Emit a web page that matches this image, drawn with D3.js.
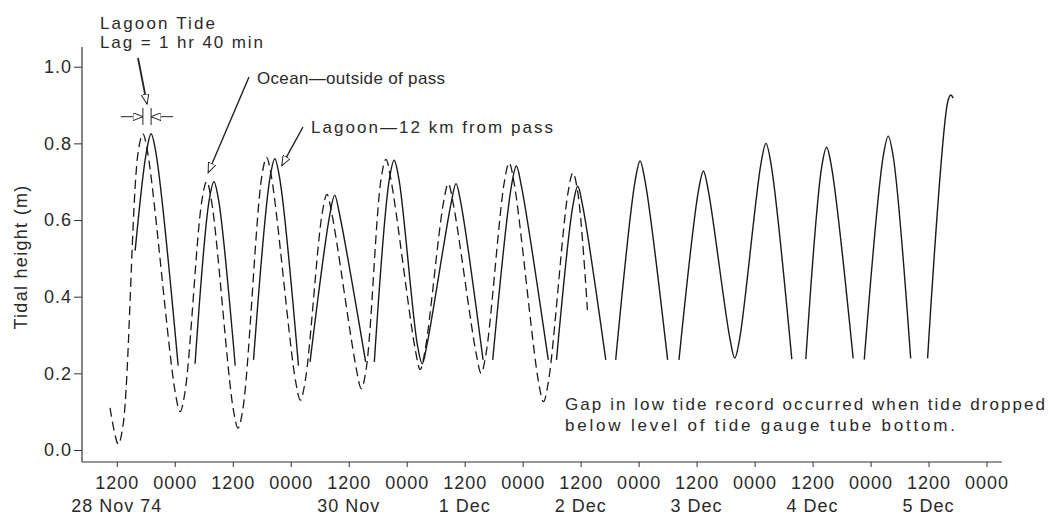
<!DOCTYPE html>
<html>
<head>
<meta charset="utf-8">
<script src="https://cdn.jsdelivr.net/npm/d3@7"></script>
<style>
  body { margin: 0; background: #fff; }
  text { font-family: "Liberation Sans", Arial, sans-serif; fill: #2a2a2a; }
</style>
</head>
<body>
<div id="chart"></div>
<script>
// hours counted from 28 Nov 1974 00:00, heights in metres
var oceanHours  = [10.6, 12.3, 13.3,
                   16.4, 17.4, 18.4,   24.1, 25.1, 26.1,
                   29.6, 30.6, 31.6,   36.1, 37.1, 38.1,
                   42.0, 43.0, 44.0,   49.0, 50.0, 51.0,
                   54.5, 55.5, 56.5,   61.6, 62.6, 63.6,
                   66.7, 67.7, 68.7,   73.8, 74.8, 75.8,
                   79.6, 80.6, 81.6,   86.4, 87.4, 88.4,
                   92.2, 93.2, 94.2,   99.3, 100.3, 101.3,
                   105.4, 106.4, 107.4, 109.4];
var oceanHeight = [0.11, 0.015, 0.065,
                   0.775, 0.825, 0.775,  0.15, 0.10, 0.15,
                   0.65, 0.70, 0.65,     0.107, 0.057, 0.107,
                   0.713, 0.763, 0.713,  0.18, 0.13, 0.18,
                   0.617, 0.667, 0.617,  0.21, 0.16, 0.21,
                   0.708, 0.758, 0.708,  0.26, 0.21, 0.26,
                   0.645, 0.695, 0.645,  0.25, 0.20, 0.25,
                   0.699, 0.749, 0.699,  0.176, 0.126, 0.176,
                   0.673, 0.723, 0.673, 0.365];

// null = gap in the low tide record
var lagoonHours  = [15.8, 18.1, 19.1, 20.1, 24.7, 26.4,
                    28.2, 31.1, 32.1, 33.1, 36.5, 38.4,
                    40.3, 43.7, 44.7, 45.7, 49.6, 50.8,
                    52.0, 56.1, 57.1, 58.1, 63.5, 64.4,
                    65.3, 68.4, 69.4, 70.4, 74.2, 75.2, 76.2, 81.2, 82.2, 83.2, 87.8, 88.8,
                    89.8, 93.7, 94.7, 95.7, 101.3, 102.2,
                    103.0, 106.4, 107.4, 108.4, 113.2, 114.2,
                    115.25, 119.3, 120.3, 121.3, 126.0, 127.2,
                    128.35, 132.4, 133.4, 134.4, 138.9, 139.9, 140.9, 145.35, 146.35, 147.35, 151.7, 153.1,
                    154.6, 157.9, 158.9, 159.9, 164.4, 165.5,
                    166.7, 170.65, 171.65, 172.65, 176.3, 178.0,
                    179.8, 184.0, 184.6, 185.1];
var lagoonHeight = [0.52, 0.775, 0.825, 0.775, 0.22, null,
                    0.225, 0.65, 0.70, 0.65, 0.22, null,
                    0.235, 0.71, 0.76, 0.71, 0.22, null,
                    0.23, 0.615, 0.665, 0.615, 0.23, null,
                    0.23, 0.706, 0.756, 0.706, 0.275, 0.225, 0.275, 0.645, 0.695, 0.645, 0.235, null,
                    0.235, 0.691, 0.741, 0.691, 0.235, null,
                    0.235, 0.638, 0.688, 0.638, 0.235, null,
                    0.235, 0.704, 0.754, 0.704, 0.235, null,
                    0.235, 0.678, 0.728, 0.678, 0.29, 0.24, 0.29, 0.75, 0.80, 0.75, 0.237, null,
                    0.237, 0.74, 0.79, 0.74, 0.239, null,
                    0.236, 0.769, 0.819, 0.769, 0.239, null,
                    0.239, 0.91, 0.926, 0.918];

var yTicks = [0, 0.2, 0.4, 0.6, 0.8, 1.0];
var xTickHours = [12, 24, 36, 48, 60, 72, 84, 96, 108, 120, 132, 144, 156, 168, 180, 192];
var dateLabels = ["28 Nov 74", "30 Nov", "1 Dec", "2 Dec", "3 Dec", "4 Dec", "5 Dec"];
var dateLabelHours = [12, 60, 84, 108, 132, 156, 180];

function t(h) { return new Date(Date.UTC(1974, 10, 28) + h * 36e5); }

var svg = d3.select("#chart").append("svg")
    .attr("width", 1048)
    .attr("height", 520);

var x = d3.scaleUtc()
    .domain([t(4.8), t(195.2)])
    .range([82, 1002]);
var y = d3.scaleLinear()
    .domain([0, 1])
    .range([450, 66.7]);

// axis lines
svg.append("line").attr("x1", 82).attr("x2", 82).attr("y1", 47).attr("y2", 462)
    .attr("stroke", "#333").attr("stroke-width", 1.2);
svg.append("line").attr("x1", 82).attr("x2", 1002).attr("y1", 462).attr("y2", 462)
    .attr("stroke", "#333").attr("stroke-width", 1.2);

svg.append("g")
    .attr("transform", "translate(82,0)")
    .call(d3.axisLeft(y).tickValues(yTicks).tickFormat(d3.format(".1f")).tickSize(8).tickPadding(2));
svg.append("g")
    .attr("transform", "translate(0,462)")
    .call(d3.axisBottom(x).tickValues(xTickHours.map(t)).tickFormat(d3.utcFormat("%H%M")).tickSize(5).tickPadding(9));

svg.selectAll(".domain").remove();
svg.selectAll(".tick line").attr("stroke", "#333");
svg.selectAll(".tick text")
    .attr("font-size", 18)
    .attr("letter-spacing", "1px")
    .attr("fill", "#2a2a2a")
    .attr("font-family", "Liberation Sans, Arial, sans-serif");

svg.selectAll(".datelabel")
  .data(dateLabels)
  .enter()
  .append("text")
    .attr("class", "datelabel")
    .attr("x", function(d, i) { return x(t(dateLabelHours[i])); })
    .attr("y", 512)
    .attr("text-anchor", "middle")
    .attr("font-size", 18)
    .attr("letter-spacing", "1px")
    .text(function(d) { return d; });

svg.append("text")
    .attr("transform", "translate(27,257) rotate(-90)")
    .attr("text-anchor", "middle")
    .attr("font-size", 18)
    .attr("letter-spacing", "1.3px")
    .text("Tidal height (m)");

// curves
var line = d3.line()
    .defined(function(d) { return d[1] != null; })
    .x(function(d) { return x(t(d[0])); })
    .y(function(d) { return y(d[1]); })
    .curve(d3.curveCatmullRom.alpha(0.5));

svg.append("path")
    .datum(oceanHours.map(function(h, i) { return [h, oceanHeight[i]]; }))
    .attr("d", line)
    .attr("fill", "none")
    .attr("stroke", "#1a1a1a")
    .attr("stroke-width", 1.3)
    .attr("stroke-dasharray", "9,5");

svg.append("path")
    .datum(lagoonHours.map(function(h, i) { return [h, lagoonHeight[i]]; }))
    .attr("d", line)
    .attr("fill", "none")
    .attr("stroke", "#1a1a1a")
    .attr("stroke-width", 1.4);

// annotations
svg.append("defs").append("marker")
    .attr("id", "arr")
    .attr("markerUnits", "userSpaceOnUse")
    .attr("markerWidth", 12).attr("markerHeight", 8)
    .attr("refX", 10).attr("refY", 4)
    .attr("orient", "auto")
  .append("path")
    .attr("d", "M0,0L10,4L0,8Z")
    .attr("fill", "#fff")
    .attr("stroke", "#222")
    .attr("stroke-width", 1);

function arrow(x1, y1, x2, y2, w) {
  svg.append("line")
    .attr("x1", x1).attr("y1", y1).attr("x2", x2).attr("y2", y2)
    .attr("stroke", "#222").attr("stroke-width", w || 1.4)
    .attr("marker-end", "url(#arr)");
}

function note(txt, x0, y0, len) {
  svg.append("text")
    .attr("x", x0).attr("y", y0)
    .attr("font-size", 17)
    .attr("textLength", len)
    .attr("lengthAdjust", "spacing")
    .text(txt);
}

note("Lagoon Tide", 100, 29, 115);
note("Lag = 1 hr 40 min", 100, 48, 163);
note("Ocean\u2014outside of pass", 257, 84, 188);
note("Lagoon\u201412 km from pass", 311, 133, 242);
note("Gap in low tide record occurred when tide dropped", 565, 410, 480);
note("below level of tide gauge tube bottom.", 565, 431, 390);

// lag dimension between first ocean and lagoon peaks
var xo = x(t(oceanHours[4])), xl = x(t(lagoonHours[2]));
svg.append("line").attr("x1", xo).attr("x2", xo).attr("y1", 108).attr("y2", 125).attr("stroke", "#222");
svg.append("line").attr("x1", xl).attr("x2", xl).attr("y1", 108).attr("y2", 125).attr("stroke", "#222");
arrow(xo - 22, 116.7, xo, 116.7, 1);
arrow(xl + 22, 116.7, xl, 116.7, 1);
arrow(138, 58, (xo + xl) / 2, 104, 1.8);

// Ocean -> second ocean peak, Lagoon -> third lagoon peak
arrow(249, 77, x(t(oceanHours[10])) + 1.5, y(oceanHeight[10]) - 9);
arrow(303, 127, x(t(lagoonHours[14])) + 7, y(lagoonHeight[14]) + 7);
</script>
</body>
</html>
